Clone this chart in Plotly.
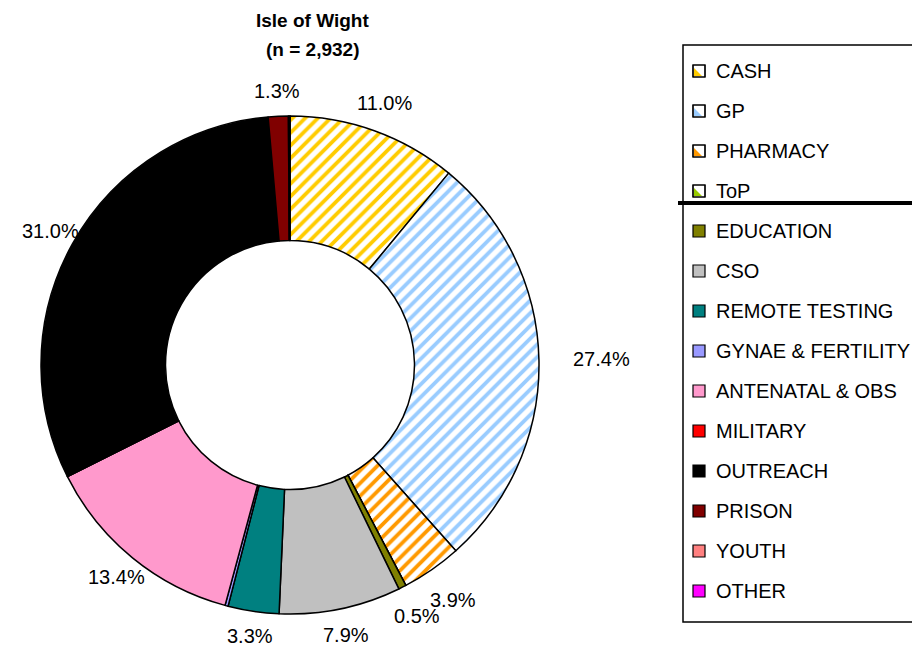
import math
import plotly.graph_objects as go

W, H = 920, 651
OFF = 8  # page body margin of the rendered html

categories = ["CASH", "GP", "PHARMACY", "ToP", "EDUCATION", "CSO", "REMOTE TESTING",
              "GYNAE & FERTILITY", "ANTENATAL & OBS", "MILITARY", "OUTREACH",
              "PRISON", "YOUTH", "OTHER"]
values = [11.0, 27.4, 3.9, 0.0, 0.5, 7.9, 3.3, 0.2, 13.4, 0.0, 31.0, 1.3, 0.1, 0.0]
slice_labels = ["11.0%", "27.4%", "3.9%", "", "0.5%", "7.9%", "3.3%", "",
                "13.4%", "", "31.0%", "1.3%", "", ""]
colors = ["#FFCC00", "#99CCFF", "#FF9900", "#99CC00", "#808000", "#C0C0C0", "#008080",
          "#9999FF", "#FF99CC", "#FF0000", "#000000", "#800000", "#FF8080", "#FF00FF"]
striped = [True, True, True, True, False, False, False, False, False, False, False,
           False, False, False]

title_lines = ["Isle of Wight", "(n = 2,932)"]

FONT = "Liberation Sans, Arial, sans-serif"


def px(x):
    return (x - OFF) / W


def py(y):
    return 1 - (y - OFF) / H


# pie geometry (page pixels)
CX, CY, R = 290, 365, 249

fig = go.Figure()

fill = ["#FFFFFF" if s else c for s, c in zip(striped, colors)]
fig.add_trace(go.Pie(
    labels=categories,
    values=values,
    textinfo="none",
    hole=0.5,
    sort=False,
    direction="clockwise",
    rotation=0,
    marker=dict(
        colors=fill,
        line=dict(color="#000000", width=1.5),
        pattern=dict(
            shape=["/" if s else "" for s in striped],
            fgcolor=colors,
            bgcolor=fill,
            fgopacity=1,
            size=9,
            solidity=0.42,
        ),
    ),
    domain=dict(x=[px(CX - R), px(CX + R)], y=[py(CY + R), py(CY - R)]),
    showlegend=False,
    hoverinfo="label+value",
))

shapes = []
annotations = []

# percentage labels, placed from the slice mid-angles
total = sum(values)
cum = 0.0
for v, lab in zip(values, slice_labels):
    mid = (cum + v / 2) / total * 2 * math.pi
    cum += v
    if not lab:
        continue
    s, c = math.sin(mid), math.cos(mid)
    r = 274 + 38 * max(0.0, s) ** 2
    annotations.append(dict(
        text=lab, x=px(CX + r * s), y=py(CY - r * c), xref="paper", yref="paper",
        xanchor="center", yanchor="middle", showarrow=False,
        font=dict(family=FONT, size=20, color="#000000"),
    ))

# title
for k, line in enumerate(title_lines):
    annotations.append(dict(
        text="<b>" + line + "</b>",
        x=px(312), y=py(20 + 30 * k), xref="paper", yref="paper",
        xanchor="center", yanchor="middle", showarrow=False,
        font=dict(family=FONT, size=19, color="#000000"),
    ))

# legend box
lx0, ly0, ly1 = 683, 45, 622
shapes.append(dict(type="rect", xref="paper", yref="paper",
                   x0=px(lx0), x1=1.05, y0=py(ly1), y1=py(ly0),
                   line=dict(color="#000000", width=1.5), fillcolor="rgba(0,0,0,0)"))
# heavy separator line
shapes.append(dict(type="line", xref="paper", yref="paper",
                   x0=px(678), x1=1.05, y0=py(203), y1=py(203),
                   line=dict(color="#000000", width=4)))

first_y, step = 71, 40
for i, (cat, col, s) in enumerate(zip(categories, colors, striped)):
    yc = first_y + step * i
    mx0, mx1 = 693, 705
    my0, my1 = yc - 6, yc + 6
    if s:
        shapes.append(dict(type="rect", xref="paper", yref="paper",
                           x0=px(mx0), x1=px(mx1), y0=py(my1), y1=py(my0),
                           line=dict(color="#000000", width=1.2), fillcolor="#FFFFFF"))
        path = "M {:.5f},{:.5f} L {:.5f},{:.5f} L {:.5f},{:.5f} Z".format(
            px(mx0 + 1), py(my1 - 1),
            px(mx0 + 1), py(my0 + 3),
            px(mx1 - 3), py(my1 - 1))
        shapes.append(dict(type="path", xref="paper", yref="paper", path=path,
                           fillcolor=col, line=dict(width=0)))
        shapes.append(dict(type="rect", xref="paper", yref="paper",
                           x0=px(mx0), x1=px(mx1), y0=py(my1), y1=py(my0),
                           line=dict(color="#000000", width=1.2), fillcolor="rgba(0,0,0,0)"))
    else:
        shapes.append(dict(type="rect", xref="paper", yref="paper",
                           x0=px(mx0), x1=px(mx1), y0=py(my1), y1=py(my0),
                           line=dict(color="#000000", width=1.2), fillcolor=col))
    annotations.append(dict(
        text=cat, x=px(714), y=py(yc), xref="paper", yref="paper",
        xanchor="left", yanchor="middle", showarrow=False,
        font=dict(family=FONT, size=20, color="#000000"),
    ))

fig.update_layout(
    width=W, height=H,
    margin=dict(l=0, r=0, t=0, b=0),
    paper_bgcolor="#FFFFFF",
    plot_bgcolor="#FFFFFF",
    shapes=shapes,
    annotations=annotations,
)

fig.write_html("out.html")
